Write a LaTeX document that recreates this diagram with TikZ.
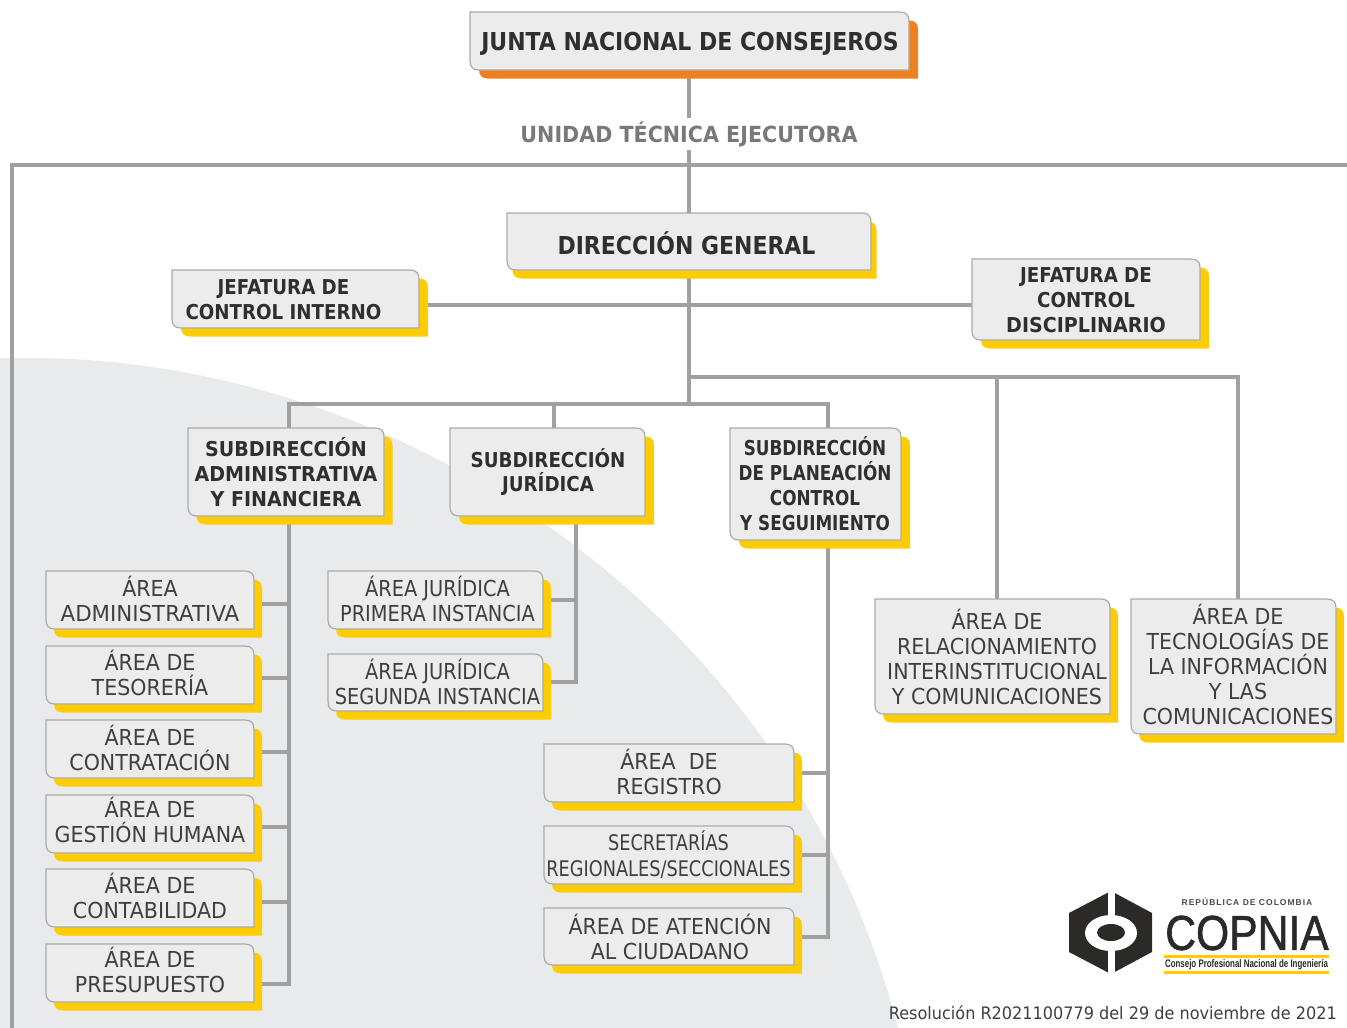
\documentclass[tikz,border=0pt]{standalone}
\usepackage{fontspec}
\setmainfont{DejaVu Sans}
\newfontfamily\fbold[FakeStretch=0.89]{DejaVu Sans Bold}
\newfontfamily\fmid[FakeStretch=0.93]{DejaVu Sans Bold}
\newfontfamily\ftight[FakeStretch=0.82]{DejaVu Sans Bold}
\newfontfamily\freg[FakeStretch=0.935]{DejaVu Sans}
\newfontfamily\fwide[FakeStretch=0.97]{DejaVu Sans}
\newfontfamily\fjur[FakeStretch=0.88]{DejaVu Sans}
\newfontfamily\fnarrow[FakeStretch=0.825]{DejaVu Sans}
\newfontfamily\flogo[FakeStretch=0.87,FakeBold=1.2]{Liberation Sans}
\newfontfamily\flogob[FakeStretch=0.72]{Liberation Sans Bold}
\newfontfamily\flogos[LetterSpace=12]{Liberation Sans Bold}
\pgfdeclarelayer{blob}
\pgfdeclarelayer{wires}
\pgfsetlayers{blob,wires,main}
\definecolor{orangeS}{HTML}{F0801F}
\definecolor{yellowS}{HTML}{FFCC00}
\definecolor{boxfill}{HTML}{ECECEC}
\definecolor{boxline}{HTML}{ABABAB}
\definecolor{wire}{HTML}{A0A0A0}
\definecolor{blobc}{HTML}{E9EAEC}
\definecolor{ink}{HTML}{2F2F2F}
\definecolor{inkr}{HTML}{3F3F3F}
\definecolor{logoc}{HTML}{2B2A29}
\tikzset{
  wireline/.style={draw=wire,line width=3.4pt},
  geom/.style={inner sep=0pt,outer sep=0pt,rectangle},
  headtxt/.style={text=ink,align=center,inner sep=0pt,font=\fbold\fontsize{20.5}{24.8}\selectfont},
  headwide/.style={text=ink,align=center,inner sep=0pt,font=\fmid\fontsize{20.5}{24.8}\selectfont},
  headtight/.style={text=ink,align=center,inner sep=0pt,font=\ftight\fontsize{20.5}{24.8}\selectfont},
  bigtxt/.style={text=ink,align=center,inner sep=0pt,font=\fbold\fontsize{24.7}{28}\selectfont},
  areatxt/.style={text=inkr,align=center,inner sep=0pt,font=\freg\fontsize{22}{25}\selectfont},
  jurtxt/.style={text=inkr,align=center,inner sep=0pt,font=\fjur\fontsize{22}{25}\selectfont},
  narrowtxt/.style={text=inkr,align=center,inner sep=0pt,font=\fnarrow\fontsize{21.5}{26}\selectfont},
}
% name, x1,y1,x2,y2, shadow colour, shadow x offset (y offset is fixed)
\newcommand\bx[7]{%
  \fill[#6] ({#2+#7},{#3+8.5}) -- ({#4+#7-9},{#3+8.5}) .. controls ({#4+#7-3},{#3+8.5}) and ({#4+#7},{#3+8.5+3}) .. ({#4+#7},{#3+8.5+9})
     -- ({#4+#7},{#5+8.5}) -- ({#2+#7+9},{#5+8.5}) .. controls ({#2+#7+3},{#5+8.5}) and ({#2+#7},{#5+8.5-3}) .. ({#2+#7},{#5+8.5-9}) -- cycle;
  \path[fill=boxfill,draw=boxline,line width=1.2pt] (#2,#3) -- ({#4-9},#3) .. controls ({#4-3},#3) and (#4,{#3+3}) .. (#4,{#3+9})
     -- (#4,#5) -- ({#2+9},#5) .. controls ({#2+3},#5) and (#2,{#5-3}) .. (#2,{#5-9}) -- cycle;
  \node[geom,minimum width={(#4-#2)*1pt},minimum height={(#5-#3)*1pt}] (#1) at ({(#2+#4)/2},{(#3+#5)/2}) {};
}
\begin{document}
\begin{tikzpicture}[x=1pt,y=-1pt]
\useasboundingbox (0,0) rectangle (1347,1028);
\begin{pgfonlayer}{blob}
\fill[white] (0,0) rectangle (1347,1028);
\fill[blobc] (0,358) -- (30,358) .. controls (400,358) and (790,610) .. (898,1028) -- (0,1028) -- cycle;
\end{pgfonlayer}

% boxes
\bx{junta}{470}{12}{909}{70}{orangeS}{9}
\bx{dir}{507}{213}{871}{270}{yellowS}{5.5}
\bx{jci}{172}{270}{419}{328}{yellowS}{9}
\bx{jcd}{972}{259}{1200}{340}{yellowS}{9}
\bx{sadm}{188}{428}{384}{516}{yellowS}{8.5}
\bx{sjur}{450}{428}{645}{516}{yellowS}{9}
\bx{spla}{730}{428}{901}{540}{yellowS}{9}
\bx{a1}{46}{571}{254}{629}{yellowS}{8}
\bx{a2}{46}{646}{254}{704}{yellowS}{8}
\bx{a3}{46}{720}{254}{778}{yellowS}{8}
\bx{a4}{46}{795}{254}{853}{yellowS}{8}
\bx{a5}{46}{869}{254}{927}{yellowS}{8}
\bx{a6}{46}{944}{254}{1002}{yellowS}{8}
\bx{j1}{328}{571}{543}{629}{yellowS}{8}
\bx{j2}{328}{654}{543}{711}{yellowS}{8}
\bx{r1}{544}{744}{794}{802}{yellowS}{8}
\bx{r2}{544}{826}{794}{884}{yellowS}{8}
\bx{r3}{544}{908}{794}{965}{yellowS}{8}
\bx{rel}{875}{599}{1110}{714}{yellowS}{8}
\bx{tec}{1131}{599}{1336}{734}{yellowS}{8}

% box texts
\node[bigtxt] (tjunta) at (690,44) {JUNTA NACIONAL DE CONSEJEROS};
\node[bigtxt] (tdir) at (686.5,243) {DIRECCIÓN GENERAL};
\node[headtxt] (tjci) at (283.5,300) {JEFATURA DE\\CONTROL INTERNO};
\node[headtxt] (tjcd) at (1086,300) {JEFATURA DE\\CONTROL\\{\fmid DISCIPLINARIO}};
\node[headwide] (tsadm) at (286,472) {SUBDIRECCIÓN\\ADMINISTRATIVA\\Y FINANCIERA};
\node[headtxt] (tsjur) at (548,472) {SUBDIRECCIÓN\\JURÍDICA};
\node[headtight] (tspla) at (815,483.5) {SUBDIRECCIÓN\\DE PLANEACIÓN\\CONTROL\\Y SEGUIMIENTO};
\node[areatxt] (ta1) at (150,598.5) {ÁREA\\{\fwide ADMINISTRATIVA}};
\node[areatxt] (ta2) at (150,672.5) {ÁREA DE\\TESORERÍA};
\node[areatxt] (ta3) at (150,748) {ÁREA DE\\CONTRATACIÓN};
\node[areatxt] (ta4) at (150,820) {ÁREA DE\\GESTIÓN HUMANA};
\node[areatxt] (ta5) at (150,896) {ÁREA DE\\CONTABILIDAD};
\node[areatxt] (ta6) at (150,970) {ÁREA DE\\PRESUPUESTO};
\node[jurtxt] (tj1) at (437.5,598.5) {ÁREA JURÍDICA\\PRIMERA INSTANCIA};
\node[jurtxt] (tj2) at (437.5,681.5) {ÁREA JURÍDICA\\SEGUNDA INSTANCIA};
\node[areatxt] (tr1) at (669,771.5) {ÁREA\ \ DE\\REGISTRO};
\node[narrowtxt] (tr2) at (668.5,855) {SECRETARÍAS\\REGIONALES/SECCIONALES};
\node[areatxt] (tr3) at (670,936.5) {ÁREA DE ATENCIÓN\\AL CIUDADANO};
\node[areatxt] (trel) at (997,656.5) {ÁREA DE\\RELACIONAMIENTO\\INTERINSTITUCIONAL\\Y COMUNICACIONES};
\node[areatxt] (ttec) at (1238,664) {ÁREA DE\\TECNOLOGÍAS DE\\LA INFORMACIÓN\\Y LAS\\COMUNICACIONES};

% label over the trunk
\node[fill=white,inner xsep=2pt,inner ysep=3pt,text=gray!95!black,font=\fmid\fontsize{22.2}{25}\selectfont] (ute) at (689,134) {UNIDAD TÉCNICA EJECUTORA};

% wires
\coordinate (frameR) at (1347,165);
\coordinate (frameC) at (12,165);
\coordinate (frameB) at (12,1028);
\coordinate (busL) at (289,404);
\coordinate (busM) at (554,404);
\coordinate (busP) at (828,404);
\coordinate (busT) at (689,404);
\coordinate (busU) at (689,377);
\coordinate (busR1) at (997,377);
\coordinate (busR2) at (1238,377);
\coordinate (staff) at (689,305);
\coordinate (trunkA) at (289,984);
\coordinate (trunkJ) at (576,682);
\coordinate (trunkP) at (828,937);
\begin{pgfonlayer}{wires}
\draw[wireline] (frameR) -- (frameC) -- (frameB);
\draw[wireline] (junta.south -| busT) -- (dir.north -| busT);
\draw[wireline] (dir.south -| busT) -- (busT);
\draw[wireline] (jci.east |- staff) -- (jcd.west |- staff);
\draw[wireline] (busU) -- (busR2) -- (tec.north -| busR2);
\draw[wireline] (busR1) -- (rel.north -| busR1);
\draw[wireline] (sadm.north -| busL) -- (busL) -- (busP) -- (spla.north -| busP);
\draw[wireline] (busM) -- (sjur.north -| busM);
\draw[wireline] (sadm.south -| trunkA) -- (trunkA) -- (a6.east |- trunkA);
\draw[wireline] (a1.east |- 0,604) -- (trunkA |- 0,604);
\draw[wireline] (a2.east |- 0,678) -- (trunkA |- 0,678);
\draw[wireline] (a3.east |- 0,752) -- (trunkA |- 0,752);
\draw[wireline] (a4.east |- 0,827) -- (trunkA |- 0,827);
\draw[wireline] (a5.east |- 0,902) -- (trunkA |- 0,902);
\draw[wireline] (sjur.south -| trunkJ) -- (trunkJ) -- (j2.east |- trunkJ);
\draw[wireline] (j1.east |- 0,600) -- (trunkJ |- 0,600);
\draw[wireline] (spla.south -| trunkP) -- (trunkP) -- (r3.east |- trunkP);
\draw[wireline] (r1.east |- 0,773) -- (trunkP |- 0,773);
\draw[wireline] (r2.east |- 0,855) -- (trunkP |- 0,855);
\end{pgfonlayer}

% logo
\fill[logoc] (1111,891) -- (1152,913) -- (1152,952) -- (1111,974) -- (1069,952) -- (1069,913) -- cycle;
\fill[white] (1107.5,888) rectangle (1114.5,977);
\fill[white] (1111,933) ellipse [x radius=26,y radius=18];
\fill[logoc] (1111,932.5) ellipse [x radius=14,y radius=8.5];
\node[inner sep=0pt,text=logoc,font=\flogo\fontsize{49}{49}\selectfont] (copnia) at (1247,933) {COPNIA};
\node[inner sep=0pt,text=logoc!85!white,font=\flogos\fontsize{8.5}{9}\selectfont] (rep) at (1247,902) {REPÚBLICA DE COLOMBIA};
\fill[yellowS] (1164,955) rectangle (1329,958);
\fill[yellowS] (1164,971) rectangle (1329,974);
\node[inner sep=0pt,text=logoc,font=\flogob\fontsize{11}{11}\selectfont] (cons) at (1246.5,964.5) {Consejo Profesional Nacional de Ingeniería};

\node[inner sep=0pt,text=inkr,anchor=east,font=\freg\fontsize{17.2}{20}\selectfont] (res) at (1337,1013) {Resolución R2021100779 del 29 de noviembre de 2021};
\end{tikzpicture}
\end{document}
